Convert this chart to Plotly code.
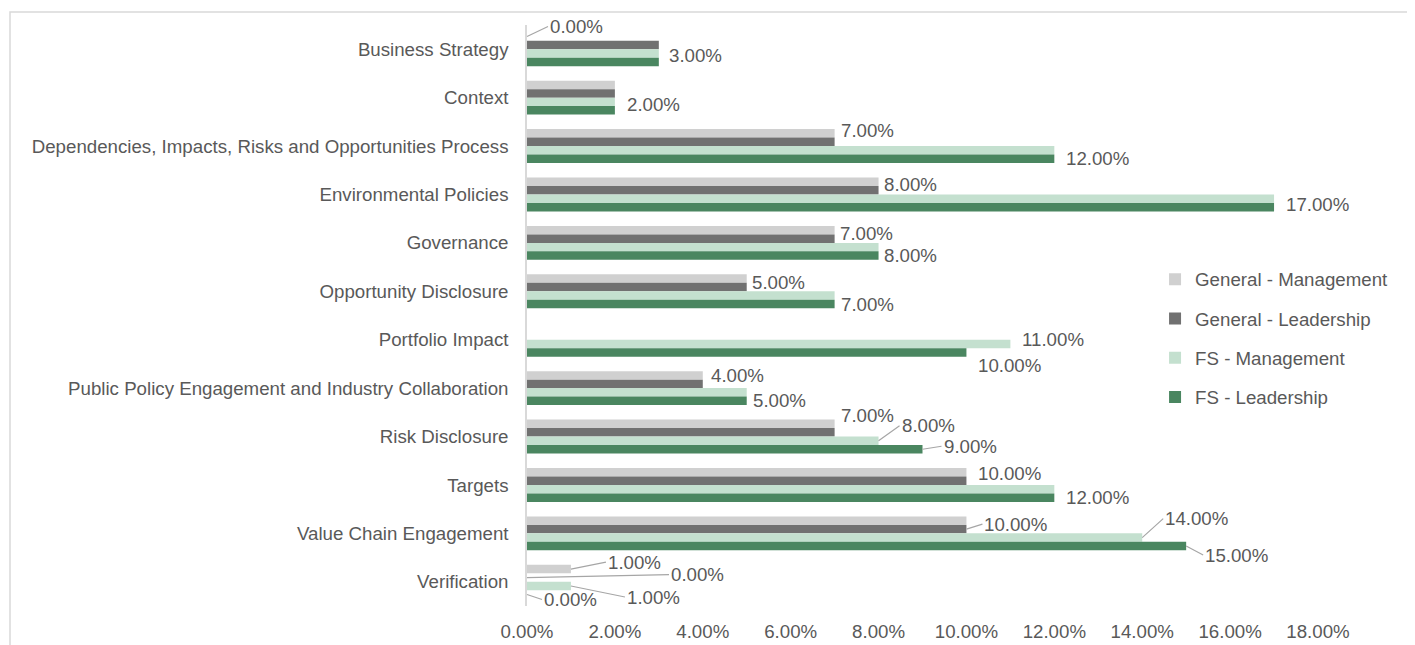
import plotly.graph_objects as go

categories = [
    "Business Strategy",
    "Context",
    "Dependencies, Impacts, Risks and Opportunities Process",
    "Environmental Policies",
    "Governance",
    "Opportunity Disclosure",
    "Portfolio Impact",
    "Public Policy Engagement and Industry Collaboration",
    "Risk Disclosure",
    "Targets",
    "Value Chain Engagement",
    "Verification",
]
series_names = ["General - Management", "General - Leadership", "FS - Management", "FS - Leadership"]
general_management = [0, 2, 7, 8, 7, 5, 0, 4, 7, 10, 10, 1]
general_leadership = [3, 2, 7, 8, 7, 5, 0, 4, 7, 10, 10, 0]
fs_management = [3, 2, 12, 17, 8, 7, 11, 5, 8, 12, 14, 1]
fs_leadership = [3, 2, 12, 17, 8, 7, 10, 5, 9, 12, 15, 0]
x_ticks = [0, 2, 4, 6, 8, 10, 12, 14, 16, 18]

series_values = [general_management, general_leadership, fs_management, fs_leadership]
colors = ["#d0d0d0", "#717171", "#c4e0cf", "#4a8660"]

# label placement: (category index, series index, dx px, dy px (down +), leader line)
label_spec = [
    (0, 0, 21, -10, True),
    (0, 2, 8, 2, False),
    (1, 2, 10, 3, False),
    (2, 0, 4, -3, False),
    (2, 3, 10, 0, False),
    (3, 0, 3, 3, False),
    (3, 3, 10, -3, False),
    (4, 0, 3, 3, False),
    (4, 3, 3, 0, False),
    (5, 0, 3, 4, False),
    (5, 3, 4, 0, False),
    (6, 2, 10, -4, False),
    (6, 3, 10, 13, False),
    (7, 0, 6, 0, False),
    (7, 3, 4, 0, False),
    (8, 0, 4, -8, False),
    (8, 2, 21, -15, True),
    (8, 3, 19, -3, True),
    (9, 0, 10, 1, False),
    (9, 3, 10, 0, False),
    (10, 1, 16, -5, True),
    (10, 2, 21, -19, True),
    (10, 3, 17, 9, True),
    (11, 0, 35, -7, True),
    (11, 1, 142, -3, True),
    (11, 2, 54, 11, True),
    (11, 3, 15, 5, True),
]

font_family = "Arial, Liberation Sans, sans-serif"
text_color = "#595959"
fs = 18.7
bargap = 0.3
bar_w = (1 - bargap) / 4

fig = go.Figure()
for i, (name, vals, col) in enumerate(zip(series_names, series_values, colors)):
    fig.add_trace(go.Bar(
        y=categories, x=vals, name=name, orientation="h",
        marker=dict(color=col, line=dict(width=0)),
        legendgroup=f"g{i}",
    ))

annotations = []
for ci, si, dx, dy, leader in label_spec:
    v = series_values[si][ci]
    ypos = ci + (si - 1.5) * bar_w
    txt = f"{v:.2f}%"
    if leader:
        annotations.append(dict(
            x=v, y=ypos, xref="x", yref="y", text=txt,
            showarrow=True, arrowhead=0, arrowwidth=1.2, arrowcolor="#a6a6a6",
            ax=dx, ay=dy, axref="pixel", ayref="pixel",
            xanchor="left", yanchor="middle", standoff=0, startstandoff=0,
            font=dict(size=fs, color=text_color, family=font_family),
        ))
    else:
        annotations.append(dict(
            x=v, y=ypos, xref="x", yref="y", text=txt,
            showarrow=False, xanchor="left", yanchor="middle",
            xshift=dx, yshift=-dy,
            font=dict(size=fs, color=text_color, family=font_family),
        ))

fig.update_layout(
    width=1407, height=637, autosize=False,
    margin=dict(l=519, r=97, t=17, b=39),
    paper_bgcolor="white", plot_bgcolor="white",
    barmode="group", bargap=bargap, bargroupgap=0,
    font=dict(family=font_family, size=fs, color=text_color),
    legend=dict(
        x=0.794, xanchor="left", y=0.4604, yanchor="middle",
        font=dict(size=fs, color=text_color, family=font_family),
        tracegroupgap=12, bgcolor="rgba(0,0,0,0)",
    ),
    annotations=annotations,
    shapes=[dict(
        type="rect", xref="paper", yref="paper",
        x0=-0.6536, x1=1.3, y0=-0.3, y1=1.0224,
        line=dict(color="#d9d9d9", width=1.5), fillcolor="rgba(0,0,0,0)", layer="below",
    )],
)
fig.update_xaxes(
    range=[0, 18.0001], tickvals=x_ticks, ticktext=[f"{t:.2f}%" for t in x_ticks],
    showgrid=False, zeroline=False, showline=False, automargin=False,
    tickfont=dict(size=fs, color=text_color), ticks="", ticklabelstandoff=12,
)
fig.update_yaxes(
    autorange="reversed", showgrid=False, zeroline=False, automargin=False,
    showline=True, linecolor="#d9d9d9", linewidth=1.5,
    ticks="", ticklabelstandoff=13,
    tickfont=dict(size=fs, color=text_color),
)

fig.write_html("out.html")
